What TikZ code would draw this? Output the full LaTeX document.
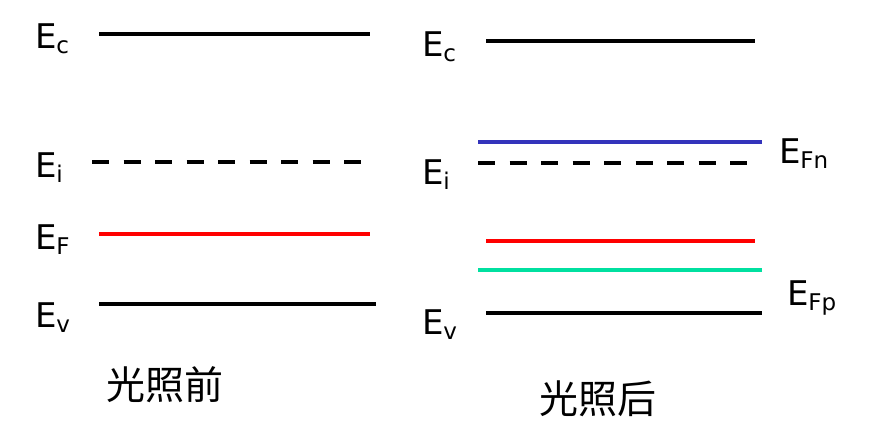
\documentclass[tikz,border=0pt]{standalone}
\usepackage{fontspec}
\setmainfont{DejaVu Sans}
\newfontfamily\cjk{Noto Sans CJK SC}
\definecolor{fnblue}{RGB}{51,51,187}
\definecolor{fpgreen}{RGB}{0,224,160}
\newcommand{\lvl}[1]{E\raisebox{-5pt}{\fontsize{23}{23}\selectfont #1}}
\begin{document}
\begin{tikzpicture}[x=1pt,y=-1pt,
  level/.style={line width=3.6pt},
  dashlevel/.style={line width=3.6pt, dash pattern=on 17pt off 14.5pt},
  elab/.style={anchor=base west, inner sep=0pt, outer sep=0pt, font=\fontsize{34}{34}\selectfont},
  captext/.style={inner sep=0pt, font=\cjk\fontsize{39}{39}\selectfont}]
\useasboundingbox (0,0) rectangle (892,445);
% left panel
\draw[level] (99,34) -- (370,34);
\draw[dashlevel] (92,162) -- (362,162);
\draw[level, red] (99,234) -- (370,234);
\draw[level] (99,304) -- (376,304);
\node[elab] (lec) at (35,48) {\lvl{c}};
\node[elab] (lei) at (35,177) {\lvl{i}};
\node[elab] (lef) at (35,249) {\lvl{F}};
\node[elab] (lev) at (35,327) {\lvl{v}};
\node[captext] (before) at (165,385) {光照前};
% right panel
\draw[level] (486,41) -- (755,41);
\draw[level, fnblue] (478,142) -- (762,142);
\draw[dashlevel] (478,163) -- (748,163);
\draw[level, red] (486,241) -- (755,241);
\draw[level, fpgreen] (478,270) -- (762,270);
\draw[level] (486,313) -- (762,313);
\node[elab] (rec) at (422,56) {\lvl{c}};
\node[elab] (rei) at (422,184) {\lvl{i}};
\node[elab] (rev) at (422,334) {\lvl{v}};
\node[elab] (refn) at (779,163) {\lvl{Fn}};
\node[elab] (refp) at (787,305) {\lvl{Fp}};
\node[captext] (after) at (598,399) {光照后};
\end{tikzpicture}
\end{document}
